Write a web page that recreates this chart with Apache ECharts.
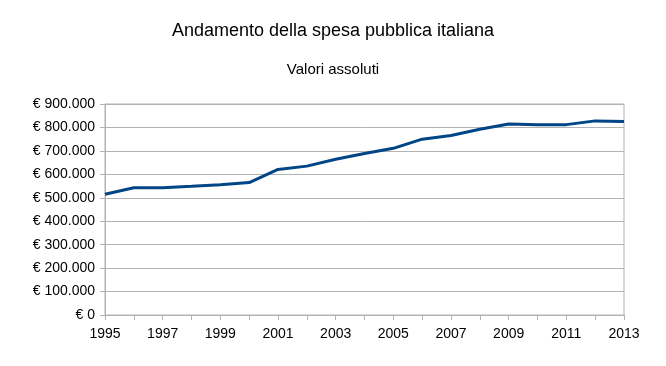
<!DOCTYPE html>
<html>
<head>
<meta charset="utf-8">
<script src="https://cdn.jsdelivr.net/npm/echarts@6/dist/echarts.min.js"></script>
<style>html,body{margin:0;padding:0;background:#fff;}#c{width:666px;height:366px;}</style>
</head>
<body>
<div id="c"></div>
<script>
const years = ['1995','1996','1997','1998','1999','2000','2001','2002','2003','2004','2005','2006','2007','2008','2009','2010','2011','2012','2013'];
const spesa = [515000,543000,543000,549000,556000,565000,621000,635000,664000,689000,711000,750000,766000,792000,815000,812000,812000,828000,825000];
const titleText = 'Andamento della spesa pubblica italiana';
const subtitleText = 'Valori assoluti';

function fmt(v){
  return '€ ' + String(v).replace(/\B(?=(\d{3})+(?!\d))/g, '.');
}
const chart = echarts.init(document.getElementById('c'), null, {renderer:'canvas'});
chart.setOption({
  animation:false,
  backgroundColor:'#fff',
  title:[
    {text:titleText, left:'center', top:17, textStyle:{fontFamily:'Liberation Sans', fontSize:18, fontWeight:'normal', color:'#000'}},
    {text:subtitleText, left:'center', top:57, textStyle:{fontFamily:'Liberation Sans', fontSize:15, fontWeight:'normal', color:'#000'}}
  ],
  grid:{left:105, right:42, top:104, bottom:51, show:true, borderColor:'#b3b3b3', borderWidth:1},
  xAxis:{
    type:'category', data:years, boundaryGap:false,
    axisLine:{lineStyle:{color:'#b3b3b3', width:1}},
    axisTick:{show:true, interval:0, length:5, lineStyle:{color:'#b3b3b3'}},
    axisLabel:{interval:1, color:'#000', fontFamily:'Liberation Sans', fontSize:14, margin:12},
    splitLine:{show:false}
  },
  yAxis:{
    type:'value', min:0, max:900000, interval:100000,
    axisLine:{show:true, lineStyle:{color:'#b3b3b3', width:1}},
    axisTick:{show:true, length:5, lineStyle:{color:'#b3b3b3'}},
    axisLabel:{formatter:fmt, color:'#000', fontFamily:'Liberation Sans', fontSize:14, margin:10},
    splitLine:{show:true, lineStyle:{color:'#b3b3b3', width:1}}
  },
  series:[{
    type:'line', data:spesa, showSymbol:false, symbol:'none',
    lineStyle:{color:'#004586', width:3},
    itemStyle:{color:'#004586'}
  }]
});
</script>
</body>
</html>
